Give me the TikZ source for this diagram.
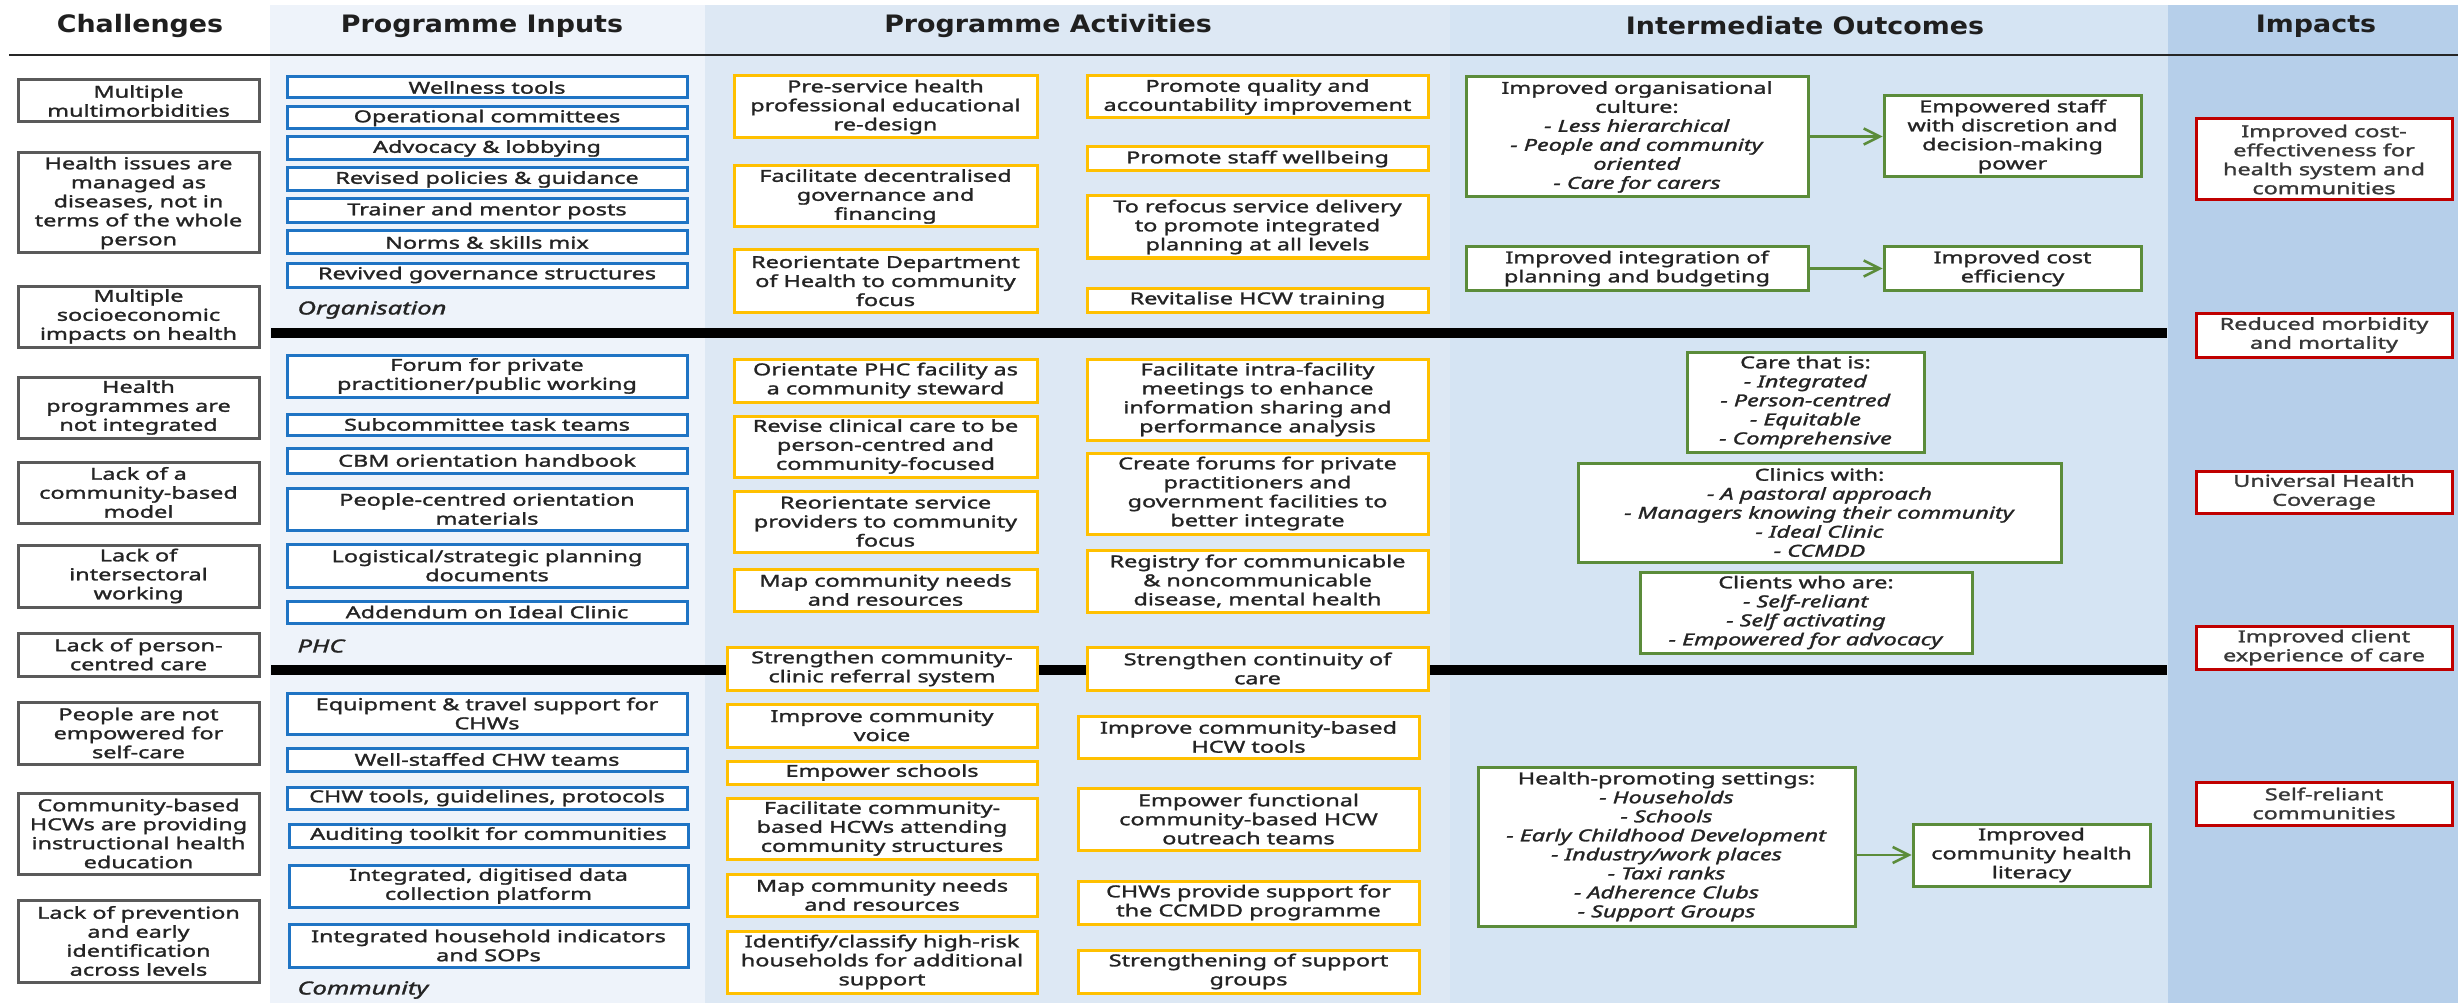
\documentclass[tikz,border=0pt]{standalone}
\usepackage{fontspec}
\setmainfont{Noto Sans}[FakeStretch=1.42, FakeBold=1.6]
\newfontfamily\headfont{DejaVu Sans}[FakeStretch=1.12]
\usetikzlibrary{arrows.meta}

\definecolor{inbg}{HTML}{EEF3FA}
\definecolor{actbg}{HTML}{DDE8F4}
\definecolor{outbg}{HTML}{D5E4F3}
\definecolor{impbg}{HTML}{B6CFEA}
\definecolor{chalc}{HTML}{5A5A5A}
\definecolor{inc}{HTML}{1F74C4}
\definecolor{actc}{HTML}{FFC000}
\definecolor{outc}{HTML}{5B8C3A}
\definecolor{impc}{HTML}{C00000}
\definecolor{txt}{HTML}{242424}

\newcommand\bodyfont{\fontsize{16.5}{19}\selectfont}
\newcommand\headfnt{\headfont\bfseries\fontsize{24}{28}\selectfont}
% box given by its corners: style, name, x1, y1, x2, y2, text
\newcommand\cbox[7]{%
  \node[#1, minimum width={#5-#3}, minimum height={#6-#4}] (#2)
    at ({(#3+#5)/2},{(#4+#6)/2}) {#7};}

\tikzset{
  basebox/.style={draw, fill=white, line width=3pt, inner sep=0pt,
    align=center, font=\bodyfont, text=txt},
  chalbox/.style={basebox, draw=chalc},
  inbox/.style={basebox, draw=inc},
  actbox/.style={basebox, draw=actc},
  outbox/.style={basebox, draw=outc},
  impbox/.style={basebox, draw=impc, text=black!78},
  head/.style={font=\headfnt, text=black!88},
  level/.style={font=\fontsize{18}{20}\selectfont\itshape, anchor=west, text=txt},
  sep/.style={line width=10pt, black},
  arr/.style={draw=outc, line width=2.5pt,
    -{Straight Barb[length=16pt,width=16pt,line width=2.5pt]}}
}

\begin{document}
\begin{tikzpicture}[x=1pt,y=-1pt]
\useasboundingbox (0,0) rectangle (2458,1003);

% column backgrounds
\fill[white] (0,0) rectangle (2458,1003);
\fill[inbg]  (270,5) rectangle (705,1003);
\fill[actbg] (705,5) rectangle (1450,1003);
\fill[outbg] (1450,5) rectangle (2168,1003);
\fill[impbg] (2168,5) rectangle (2458,1003);

% headings
\node[head] (hChal) at (140,26) {Challenges};
\node[head] (hIn)   at (482,26) {Programme Inputs};
\node[head] (hAct)  at (1048,26) {Programme Activities};
\node[head] (hOut)  at (1805,26) {Intermediate Outcomes};
\node[head] (hImp)  at (2316,26) {Impacts};
\draw[line width=2.5pt, black!85] (9,55) -- (2458,55);

% level separators
\draw[sep] (271,333) -- (2167,333);
\draw[sep] (271,670) -- (2167,670);

% level labels
\node[level] (lOrg) at (294,310) {Organisation};
\node[level] (lPhc) at (294,646) {PHC};
\node[level] (lCom) at (294,990) {Community};

% challenges
\cbox{chalbox}{c1}{18}{80}{259}{122}{Multiple\\multimorbidities}
\cbox{chalbox}{c2}{18}{153}{259}{253}{Health issues are\\managed as\\diseases, not in\\terms of the whole\\person}
\cbox{chalbox}{c3}{18}{286}{259}{347}{Multiple\\socioeconomic\\impacts on health}
\cbox{chalbox}{c4}{18}{377}{259}{438}{Health\\programmes are\\not integrated}
\cbox{chalbox}{c5}{18}{462}{259}{523}{Lack of a\\community-based\\model}
\cbox{chalbox}{c6}{18}{545}{259}{607}{Lack of\\intersectoral\\working}
\cbox{chalbox}{c7}{18}{633}{259}{676}{Lack of person-\\centred care}
\cbox{chalbox}{c8}{18}{702}{259}{764}{People are not\\empowered for\\self-care}
\cbox{chalbox}{c9}{18}{793}{259}{874}{Community-based\\HCWs are providing\\instructional health\\education}
\cbox{chalbox}{c10}{18}{900}{259}{982}{Lack of prevention\\and early\\identification\\across levels}

% programme inputs
\cbox{inbox}{i1}{287}{77}{687}{98}{Wellness tools}
\cbox{inbox}{i2}{287}{107}{687}{129}{Operational committees}
\cbox{inbox}{i3}{287}{137}{687}{160}{Advocacy \& lobbying}
\cbox{inbox}{i4}{287}{168}{687}{191}{Revised policies \& guidance}
\cbox{inbox}{i5}{287}{199}{687}{223}{Trainer and mentor posts}
\cbox{inbox}{i6}{287}{231}{687}{254}{Norms \& skills mix}
\cbox{inbox}{i7}{287}{263}{687}{287}{Revived governance structures}
\cbox{inbox}{i8}{287}{355}{687}{397}{Forum for private\\practitioner/public working}
\cbox{inbox}{i9}{287}{414}{687}{435}{Subcommittee task teams}
\cbox{inbox}{i10}{287}{448}{687}{473}{CBM orientation handbook}
\cbox{inbox}{i11}{287}{488}{687}{530}{People-centred orientation\\materials}
\cbox{inbox}{i12}{287}{544}{687}{587}{Logistical/strategic planning\\documents}
\cbox{inbox}{i13}{287}{601}{687}{623}{Addendum on Ideal Clinic}
\cbox{inbox}{i14}{287}{693}{687}{734}{Equipment \& travel support for\\CHWs}
\cbox{inbox}{i15}{287}{748}{687}{771}{Well-staffed CHW teams}
\cbox{inbox}{i16}{287}{787}{687}{809}{CHW tools, guidelines, protocols}
\cbox{inbox}{i17}{289}{824}{688}{847}{Auditing toolkit for communities}
\cbox{inbox}{i18}{289}{865}{688}{907}{Integrated, digitised data\\collection platform}
\cbox{inbox}{i19}{289}{924}{688}{967}{Integrated household indicators\\and SOPs}

% programme activities, left column
\cbox{actbox}{a1}{734}{76}{1037}{138}{Pre-service health\\professional educational\\re-design}
\cbox{actbox}{a2}{734}{166}{1037}{227}{Facilitate decentralised\\governance and\\financing}
\cbox{actbox}{a3}{734}{250}{1037}{312}{Reorientate Department\\of Health to community\\focus}
\cbox{actbox}{a4}{734}{359}{1037}{402}{Orientate PHC facility as\\a community steward}
\cbox{actbox}{a5}{734}{416}{1037}{477}{Revise clinical care to be\\person-centred and\\community-focused}
\cbox{actbox}{a6}{734}{491}{1037}{552}{Reorientate service\\providers to community\\focus}
\cbox{actbox}{a7}{734}{569}{1037}{611}{Map community needs\\and resources}
\cbox{actbox}{a8}{727}{647}{1037}{690}{Strengthen community-\\clinic referral system}
\cbox{actbox}{a9}{727}{704}{1037}{747}{Improve community\\voice}
\cbox{actbox}{a10}{727}{761}{1037}{784}{Empower schools}
\cbox{actbox}{a11}{727}{798}{1037}{859}{Facilitate community-\\based HCWs attending\\community structures}
\cbox{actbox}{a12}{727}{874}{1037}{916}{Map community needs\\and resources}
\cbox{actbox}{a13}{727}{931}{1037}{993}{Identify/classify high-risk\\households for additional\\support}

% programme activities, right column
\cbox{actbox}{b1}{1087}{76}{1428}{118}{Promote quality and\\accountability improvement}
\cbox{actbox}{b2}{1087}{147}{1428}{171}{Promote staff wellbeing}
\cbox{actbox}{b3}{1087}{196}{1428}{258}{To refocus service delivery\\to promote integrated\\planning at all levels}
\cbox{actbox}{b4}{1087}{288}{1428}{312}{Revitalise HCW training}
\cbox{actbox}{b5}{1087}{359}{1428}{440}{Facilitate intra-facility\\meetings to enhance\\information sharing and\\performance analysis}
\cbox{actbox}{b6}{1087}{453}{1428}{534}{Create forums for private\\practitioners and\\government facilities to\\better integrate}
\cbox{actbox}{b7}{1087}{550}{1428}{612}{Registry for communicable\\\& noncommunicable\\disease, mental health}
\cbox{actbox}{b8}{1087}{647}{1428}{690}{Strengthen continuity of\\care}
\cbox{actbox}{b9}{1078}{716}{1419}{758}{Improve community-based\\HCW tools}
\cbox{actbox}{b10}{1078}{788}{1419}{850}{Empower functional\\community-based HCW\\outreach teams}
\cbox{actbox}{b11}{1078}{881}{1419}{924}{CHWs provide support for\\the CCMDD programme}
\cbox{actbox}{b12}{1078}{950}{1419}{993}{Strengthening of support\\groups}

% intermediate outcomes
\cbox{outbox}{o1}{1466}{77}{1808}{197}{Improved organisational\\culture:\\\textit{- Less hierarchical}\\\textit{- People and community}\\\textit{oriented}\\\textit{- Care for carers}}
\cbox{outbox}{o2}{1884}{96}{2141}{177}{Empowered staff\\with discretion and\\decision-making\\power}
\cbox{outbox}{o3}{1466}{247}{1808}{290}{Improved integration of\\planning and budgeting}
\cbox{outbox}{o4}{1884}{247}{2141}{290}{Improved cost\\efficiency}
\cbox{outbox}{o5}{1687}{352}{1924}{452}{Care that is:\\\textit{- Integrated}\\\textit{- Person-centred}\\\textit{- Equitable}\\\textit{- Comprehensive}}
\cbox{outbox}{o6}{1578}{463}{2061}{562}{Clinics with:\\\textit{- A pastoral approach}\\\textit{- Managers knowing their community}\\\textit{- Ideal Clinic}\\\textit{- CCMDD}}
\cbox{outbox}{o7}{1640}{572}{1972}{653}{Clients who are:\\\textit{- Self-reliant}\\\textit{- Self activating}\\\textit{- Empowered for advocacy}}
\cbox{outbox}{o8}{1478}{767}{1855}{926}{Health-promoting settings:\\\textit{- Households}\\\textit{- Schools}\\\textit{- Early Childhood Development}\\\textit{- Industry/work places}\\\textit{- Taxi ranks}\\\textit{- Adherence Clubs}\\\textit{- Support Groups}}
\cbox{outbox}{o9}{1913}{824}{2150}{886}{Improved\\community health\\literacy}

\draw[arr] (o1.east |- o2.west) -- (o2.west);
\draw[arr] (o3.east) -- (o4.west);
\draw[arr] (o8.east |- o9.west) -- (o9.west);

% impacts
\cbox{impbox}{m1}{2196}{119}{2452}{200}{Improved cost-\\effectiveness for\\health system and\\communities}
\cbox{impbox}{m2}{2196}{313}{2452}{357}{Reduced morbidity\\and mortality}
\cbox{impbox}{m3}{2196}{471}{2452}{513}{Universal Health\\Coverage}
\cbox{impbox}{m4}{2196}{626}{2452}{669}{Improved client\\experience of care}
\cbox{impbox}{m5}{2196}{782}{2452}{825}{Self-reliant\\communities}
\end{tikzpicture}
\end{document}
